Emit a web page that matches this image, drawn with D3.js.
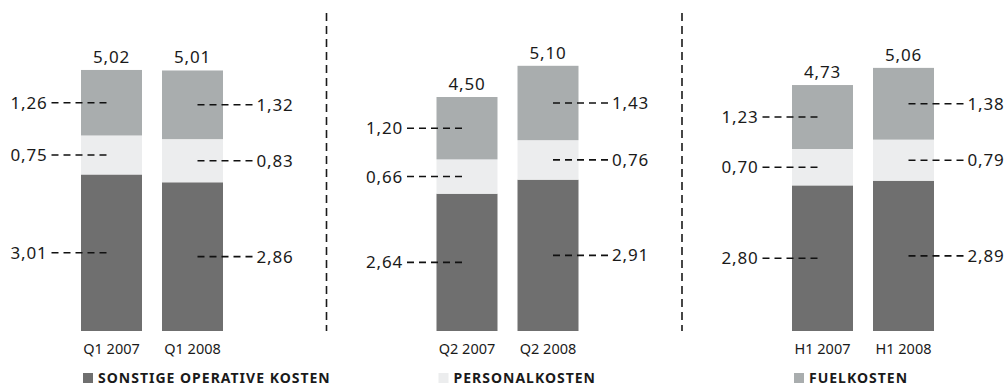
<!DOCTYPE html>
<html>
<head>
<meta charset="utf-8">
<script src="https://cdn.jsdelivr.net/npm/d3@7"></script>
<style>
  html, body { margin: 0; padding: 0; background: #fff; }
  svg { display: block; font-family: "Noto Sans", "Open Sans", sans-serif; }
</style>
</head>
<body>
<svg id="chart" width="1008" height="386"></svg>
<script>
// Cost per unit, by period (EUR cent)
const groups = ["Q1", "Q2", "H1"];
const years = ["2007", "2008"];
const categories = ["Q1 2007", "Q1 2008", "Q2 2007", "Q2 2008", "H1 2007", "H1 2008"];
const sonstige = [3.01, 2.86, 2.64, 2.91, 2.80, 2.89];
const personal = [0.75, 0.83, 0.66, 0.76, 0.70, 0.79];
const fuel     = [1.26, 1.32, 1.20, 1.43, 1.23, 1.38];
const totals   = [5.02, 5.01, 4.50, 5.10, 4.73, 5.06];
const seriesNames = ["SONSTIGE OPERATIVE KOSTEN", "PERSONALKOSTEN", "FUELKOSTEN"];
const seriesColors = ["#6f6f6f", "#ecedee", "#a9adae"];

const fmt = d3.formatLocale({ decimal: ",", thousands: ".", grouping: [3], currency: ["", " €"] }).format(".2f");

const svg = d3.select("#chart");

const rows = categories.map((c, i) => ({
  cat: c, group: groups[Math.floor(i / 2)], year: years[i % 2], idx: i,
  s0: sonstige[i], s1: personal[i], s2: fuel[i], total: totals[i]
}));
const stack = d3.stack().keys(["s0", "s1", "s2"])(rows);

const x0 = d3.scaleBand().domain(groups).range([81, 81 + 3 * 355.5]);
const x1 = d3.scaleBand().domain(years).range([0, 142]).paddingInner(0.247);
const y = d3.scaleLinear().domain([0, 6]).range([331, 331 - 6 * 52]);

const barX = d => x0(d.group) + x1(d.year);
const barC = d => barX(d) + x1.bandwidth() / 2;

// group separators
groups.slice(1).forEach(g => {
  svg.append("line")
    .attr("x1", x0(g) - 110).attr("x2", x0(g) - 110)
    .attr("y1", 13).attr("y2", 331)
    .attr("stroke", "#1a1a1a").attr("stroke-width", 1.6)
    .attr("stroke-dasharray", "8 5");
});

// stacked bars
stack.forEach((layer, k) => {
  svg.append("g").selectAll("rect").data(layer).join("rect")
    .attr("x", d => barX(d.data))
    .attr("width", x1.bandwidth())
    .attr("y", d => y(d[1]))
    .attr("height", d => y(d[0]) - y(d[1]))
    .attr("fill", seriesColors[k]);
});

// leader lines and segment values (dashes start next to the label)
stack.forEach(layer => {
  layer.forEach(d => {
    const r = d.data;
    const left = r.year === "2007";
    const cy = y((d[0] + d[1]) / 2);
    const cx = barC(r);
    const xs = left ? cx - 60 : cx + 60;
    svg.append("line")
      .attr("x1", xs).attr("x2", cx).attr("y1", cy).attr("y2", cy)
      .attr("stroke", "#111").attr("stroke-width", 1.6)
      .attr("stroke-dasharray", "7 5");
    svg.append("text")
      .attr("x", left ? cx - 64 : cx + 64)
      .attr("y", cy).attr("dy", "0.36em")
      .attr("text-anchor", left ? "end" : "start")
      .attr("font-size", 17).attr("letter-spacing", 0.8)
      .attr("fill", "#1a1a1a")
      .text(fmt(d[1] - d[0]));
  });
});

// totals above bars
svg.append("g").selectAll("text").data(rows).join("text")
  .attr("x", d => barC(d))
  .attr("y", d => y(d.total) - 7)
  .attr("text-anchor", "middle")
  .attr("font-size", 17).attr("letter-spacing", 0.8)
  .attr("fill", "#1a1a1a")
  .text(d => fmt(d.total));

// category labels
svg.append("g").selectAll("text").data(rows).join("text")
  .attr("x", d => barC(d))
  .attr("y", 354)
  .attr("text-anchor", "middle")
  .attr("font-size", 14.5)
  .attr("fill", "#1a1a1a")
  .text(d => d.cat);

// legend
const lg = svg.append("g").selectAll("g").data(seriesNames).join("g")
  .attr("transform", (d, i) => `translate(${x0(groups[i]) + 2},373)`);
lg.append("rect").attr("width", 10).attr("height", 10)
  .attr("fill", (d, i) => seriesColors[i]);
lg.append("text").attr("x", 15).attr("y", 10)
  .attr("font-size", 14).attr("font-weight", 700).attr("letter-spacing", 1)
  .attr("fill", "#1a1a1a")
  .text(d => d);
</script>
</body>
</html>
